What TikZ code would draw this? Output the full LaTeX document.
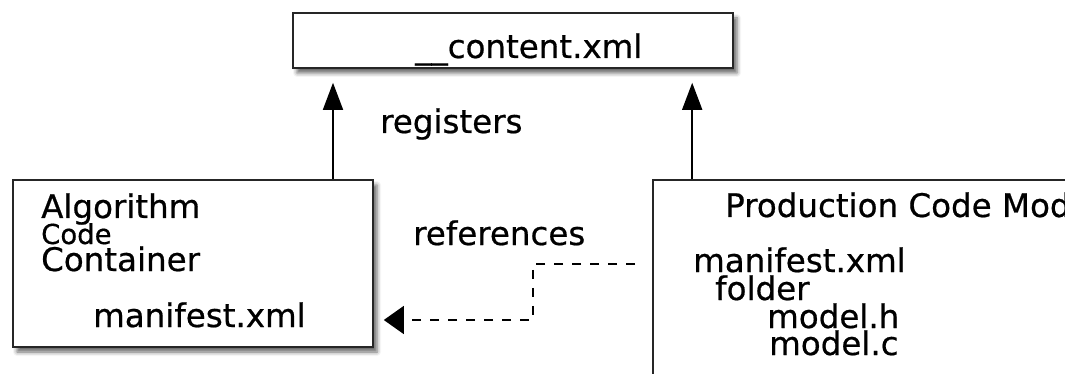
\documentclass[tikz,border=0pt]{standalone}
\usepackage{fontspec}
\setmainfont{DejaVu Sans}[FakeBold=0.6]
\usetikzlibrary{arrows.meta,shadows.blur}

\tikzset{
  box/.style={draw=black!85, line width=1.6pt, fill=white,
    blur shadow={shadow xshift=4pt, shadow yshift=-5pt, shadow blur radius=4pt, shadow opacity=60}},
  txt/.style={font=\fontsize{32.5}{38}\selectfont, inner sep=0pt, anchor=base west},
  smalltxt/.style={font=\fontsize{27.5}{30}\selectfont, inner sep=0pt, anchor=base west},
  arr/.style={line width=1.6pt, -{Triangle[length=27pt,width=20pt]}},
  refarr/.style={line width=1.4pt, dash pattern=on 9pt off 9pt, -{Triangle[length=20pt,width=28pt]}},
}

\begin{document}
\begin{tikzpicture}[x=1pt,y=-1pt]
  \useasboundingbox (0,0) rectangle (1065,374);
  \clip (0,0) rectangle (1065,374);

  % boxes
  \node[box, minimum width=440pt, minimum height=55pt] (content) at (513,40.5) {};
  \node[box, minimum width=360pt, minimum height=167pt] (algo) at (193,263.5) {};
  \node[box, minimum width=547pt, minimum height=240pt] (prod) at (926.5,300) {};

  % texts
  \node[txt] (contentname) at (415,58) {\_\_content.xml};
  \node[txt] (algoname) at (41,218) {Algorithm};
  \node[smalltxt] (algocode) at (41,244) {Code};
  \node[txt] (algocont) at (41,271) {Container};
  \node[txt] (algoman) at (93,327) {manifest.xml};
  \node[txt] (prodname) at (725,217) {Production Code Model};
  \node[txt] (prodman) at (693,272) {manifest.xml};
  \node[txt] (prodfolder) at (715,300) {folder};
  \node[txt] (prodh) at (767,328) {model.h};
  \node[txt] (prodc) at (769,355) {model.c};
  \node[txt] (reglabel) at (380,133) {registers};
  \node[txt] (reflabel) at (413,245) {references};

  % connectors
  \coordinate (regL) at ([xshift=140pt]algo.north);
  \coordinate (regR) at ([xshift=40pt]prod.north west);
  \draw[arr, shorten >=14pt] (regL) -- (regL |- content.south);
  \draw[arr, shorten >=14pt] (regR) -- (regR |- content.south);

  \coordinate (bendtop) at (533,264);
  \coordinate (bendbot) at (533,320);
  \draw[refarr, shorten <=17pt, shorten >=10pt]
    (prod.west |- bendtop) -- (bendtop) -- (bendbot) -- (algo.east |- bendbot);
\end{tikzpicture}
\end{document}
